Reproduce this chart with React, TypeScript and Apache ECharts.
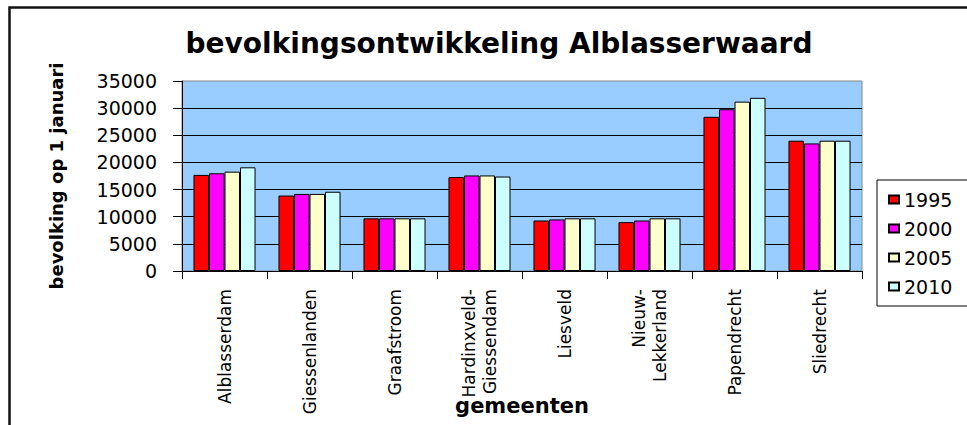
import React, { useEffect, useRef } from "react";
import * as echarts from "echarts";

const titleText = "bevolkingsontwikkeling Alblasserwaard";
const yAxisName = "bevolking op 1 januari";
const xAxisName = "gemeenten";
const categories = [
  "Alblasserdam",
  "Giessenlanden",
  "Graafstroom",
  "Hardinxveld-\nGiessendam",
  "Liesveld",
  "Nieuw-\nLekkerland",
  "Papendrecht",
  "Sliedrecht",
];
const seriesNames = ["1995", "2000", "2005", "2010"];
const v1995 = [17700, 13900, 9700, 17300, 9300, 9000, 28400, 24000];
const v2000 = [18000, 14200, 9700, 17600, 9500, 9300, 29800, 23500];
const v2005 = [18300, 14200, 9700, 17600, 9700, 9700, 31200, 24000];
const v2010 = [19100, 14600, 9700, 17400, 9700, 9700, 31900, 24000];
const seriesValues = [v1995, v2000, v2005, v2010];
const seriesColors = ["#FF0000", "#FF00FF", "#FFFFCC", "#CCFFFF"];

const FONT = "DejaVu Sans";

export default function App() {
  const ref = useRef<HTMLDivElement>(null);
  useEffect(() => {
    if (!ref.current) return;
    const chart = echarts.init(ref.current, null, { renderer: "svg" });
    chart.setOption({
      animation: false,
      backgroundColor: "#FFFFFF",
      title: {
        text: titleText,
        left: 494,
        textAlign: "center",
        top: 24,
        textStyle: {
          fontFamily: FONT,
          fontWeight: "bold",
          fontSize: 28,
          color: "#000",
        },
      },
      graphic: [
        {
          type: "rect",
          shape: { x: 9.5, y: 7.5, width: 1100, height: 600 },
          style: { fill: "none", stroke: "#111", lineWidth: 2.5 },
          z: 100,
        },
      ],
      legend: {
        data: seriesNames,
        orient: "vertical",
        left: 877,
        top: 180,
        borderColor: "#000",
        borderWidth: 1,
        padding: [10, 40, 10, 11],
        itemGap: 10,
        itemWidth: 10,
        itemHeight: 8,
        icon: "rect",
        textStyle: { fontFamily: FONT, fontSize: 19, color: "#000" },
      },
      grid: {
        left: 182,
        top: 81,
        width: 680,
        height: 190,
        containLabel: false,
        outerBoundsMode: "none",
        show: true,
        backgroundColor: "#99CCFF",
        borderColor: "#888888",
        borderWidth: 1,
      },
      xAxis: {
        type: "category",
        data: categories,
        name: xAxisName,
        nameLocation: "middle",
        nameGap: 124,
        nameMoveOverlap: false,
        nameTextStyle: {
          fontFamily: FONT,
          fontWeight: "bold",
          fontSize: 21,
          color: "#000",
        },
        axisLine: { show: true, lineStyle: { color: "#000", width: 1 } },
        axisTick: { show: true, length: 8, lineStyle: { color: "#000" } },
        axisLabel: {
          interval: 0,
          rotate: 90,
          margin: 18,
          fontFamily: FONT,
          fontSize: 17,
          lineHeight: 21,
          color: "#000",
        },
        splitLine: { show: false },
      },
      yAxis: {
        type: "value",
        min: 0,
        max: 35000,
        interval: 5000,
        name: yAxisName,
        nameLocation: "middle",
        nameRotate: 90,
        nameGap: 117,
        nameMoveOverlap: false,
        nameTextStyle: {
          fontFamily: FONT,
          fontWeight: "bold",
          fontSize: 18,
          color: "#000",
        },
        axisLine: { show: true, lineStyle: { color: "#000", width: 1 } },
        axisTick: { show: true, length: 9, lineStyle: { color: "#000" } },
        axisLabel: {
          margin: 25,
          fontFamily: FONT,
          fontSize: 19,
          color: "#000",
          formatter: (v: number) => String(v),
        },
        splitLine: {
          show: true,
          showMaxLine: false,
          lineStyle: { color: "#000", width: 1 },
        },
      },
      series: seriesNames.map((name, i) => ({
        name,
        type: "bar",
        data: seriesValues[i],
        barGap: "0%",
        barCategoryGap: "27%",
        itemStyle: {
          color: seriesColors[i],
          borderColor: "#000",
          borderWidth: 1,
        },
      })),
    });
    return () => chart.dispose();
  }, []);
  return (
    <div
      ref={ref}
      style={{ position: "fixed", left: 0, top: 0, width: 967, height: 425 }}
    />
  );
}
